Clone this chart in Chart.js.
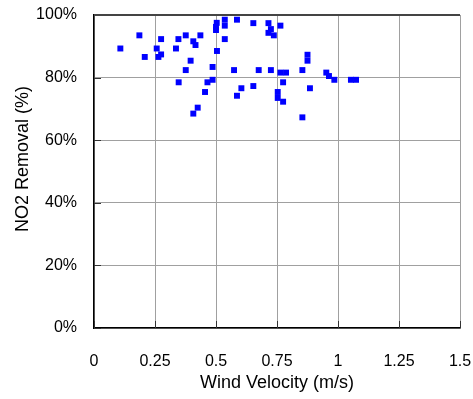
<!DOCTYPE html>
<html>
<head>
<meta charset="utf-8">
<script src="https://cdn.jsdelivr.net/npm/chart.js@4/dist/chart.umd.min.js"></script>
<style>
  html, body { margin: 0; padding: 0; background: #fff; }
  #wrap { width: 473px; height: 399px; }
</style>
</head>
<body>
<div id="wrap"><canvas id="removalChart"></canvas></div>
<script>
// wind velocity (m/s) and NO2 removal (%) measured at the same time
const windVelocity = [
    0.108, 0.186, 0.208, 0.257, 0.264, 0.275, 0.275, 0.336, 0.346, 0.347,
    0.376, 0.376, 0.396, 0.407, 0.407, 0.416, 0.425, 0.436, 0.455, 0.465,
    0.486, 0.486, 0.503, 0.500, 0.500, 0.504, 0.536, 0.536, 0.536, 0.574,
    0.586, 0.586, 0.604, 0.653, 0.653, 0.675, 0.715, 0.715, 0.725, 0.725,
    0.737, 0.753, 0.753, 0.764, 0.764, 0.775, 0.775, 0.787, 0.854, 0.854,
    0.875, 0.875, 0.885, 0.952, 0.963, 0.985, 1.053, 1.074
];
const no2Removal = [
    89.3, 93.5, 86.6, 89.3, 86.6, 87.4, 92.3, 89.3, 92.3, 78.5,
    93.5, 82.4, 85.4, 91.6, 68.5, 90.4, 70.4, 93.5, 75.4, 78.5,
    83.4, 79.3, 97.5, 96.2, 95.2, 88.5, 98.5, 96.6, 92.3, 82.4,
    98.5, 74.2, 76.6, 97.4, 77.3, 82.4, 97.4, 94.3, 95.5, 82.4,
    93.5, 75.4, 73.5, 96.6, 81.6, 78.5, 72.3, 81.6, 82.4, 67.3,
    87.3, 85.4, 76.6, 81.6, 80.5, 79.3, 79.3, 79.3
];
const xTicks = [0, 0.25, 0.5, 0.75, 1, 1.25, 1.5];
const yTicks = [0, 20, 40, 60, 80, 100];
const yTitle = 'NO2 Removal (%)';

const points = windVelocity.map((v, i) => ({ x: v, y: no2Removal[i] }));

const fontFamily = '"Liberation Sans", Arial, sans-serif';

// short tick marks pointing into the plot, the dark top edge,
// and the y title, which sits a little above the plot's middle
const frameTicks = {
    id: 'frameTicks',
    beforeDatasetsDraw(chart) {
        const { ctx, chartArea: a, scales: { x, y } } = chart;
        ctx.save();
        ctx.strokeStyle = '#333';
        ctx.lineWidth = 1;
        ctx.beginPath();
        xTicks.forEach(t => {
            const px = Math.round(x.getPixelForValue(t)) + 0.5;
            ctx.moveTo(px, a.bottom);
            ctx.lineTo(px, a.bottom - 7);
        });
        yTicks.forEach(t => {
            const py = Math.round(y.getPixelForValue(t)) + 0.5;
            ctx.moveTo(a.left, py);
            ctx.lineTo(a.left + 7, py);
        });
        ctx.stroke();
        ctx.strokeStyle = '#444';
        ctx.lineWidth = 2;
        ctx.beginPath();
        ctx.moveTo(a.left, a.top);
        ctx.lineTo(a.right, a.top);
        ctx.stroke();

        ctx.translate(23, y.getPixelForValue(54));
        ctx.rotate(-Math.PI / 2);
        ctx.fillStyle = '#000';
        ctx.font = `18px ${fontFamily}`;
        ctx.textAlign = 'center';
        ctx.textBaseline = 'middle';
        ctx.fillText(yTitle, 0, 0);
        ctx.restore();
    }
};

new Chart(document.getElementById('removalChart'), {
    type: 'scatter',
    data: {
        datasets: [{
            data: points,
            pointStyle: 'rect',
            pointRadius: 4.2,
            pointHoverRadius: 4.2,
            backgroundColor: '#0000ff',
            borderWidth: 0
        }]
    },
    options: {
        responsive: true,
        maintainAspectRatio: false,
        animation: false,
        layout: { autoPadding: false, padding: { top: 15, right: 13, left: 0, bottom: 0 } },
        plugins: {
            legend: { display: false },
            tooltip: { enabled: false }
        },
        scales: {
            x: {
                type: 'linear',
                min: 0,
                max: 1.5,
                afterBuildTicks: scale => { scale.ticks = xTicks.map(v => ({ value: v })); },
                afterFit: scale => {
                    scale.height = 71;
                    scale.paddingLeft = 0;
                    scale.paddingRight = 0;
                },
                ticks: {
                    color: '#000',
                    font: { family: fontFamily, size: 16 },
                    padding: 24,
                    maxRotation: 0,
                    callback: value => String(value)
                },
                grid: { color: '#a0a0a0', lineWidth: 1, drawTicks: false },
                border: { color: '#000', width: 1.5 },
                title: {
                    display: true,
                    text: 'Wind Velocity (m/s)',
                    color: '#000',
                    font: { family: fontFamily, size: 18 },
                    padding: { top: 0, bottom: 5 }
                }
            },
            y: {
                min: 0,
                max: 100,
                afterBuildTicks: scale => { scale.ticks = yTicks.map(v => ({ value: v })); },
                afterFit: scale => {
                    scale.width = 94;
                    scale.paddingTop = 0;
                    scale.paddingBottom = 0;
                },
                ticks: {
                    color: '#000',
                    font: { family: fontFamily, size: 16 },
                    padding: 17,
                    callback: value => `${value}%`
                },
                grid: { color: '#a0a0a0', lineWidth: 1, drawTicks: false },
                border: { color: '#000', width: 1.5 },
                title: { display: false }
            }
        }
    },
    plugins: [frameTicks]
});
</script>
</body>
</html>
